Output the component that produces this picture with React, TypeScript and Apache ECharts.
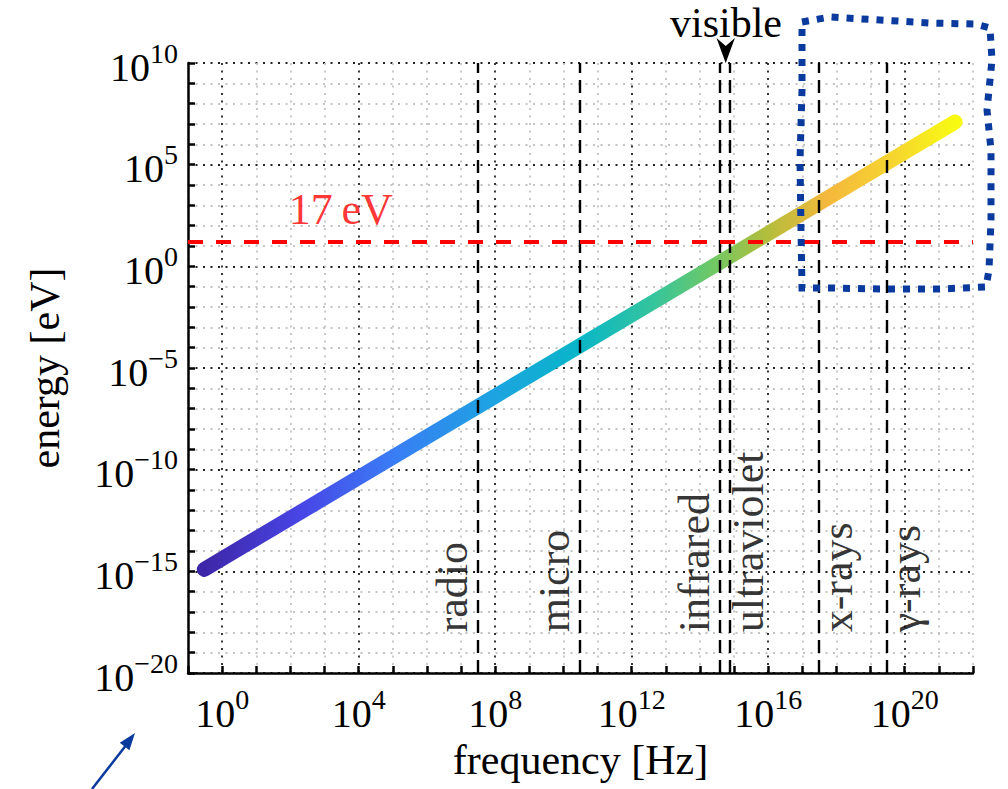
import React, { useEffect, useRef } from 'react';
import * as echarts from 'echarts';

// ---- data ----
const frequencyHz = [0.3, 1e4, 1e8, 1e12, 1e16, 3e21];
const energyEV = [1.25e-15, 4.1e-11, 4.1e-7, 4.1e-3, 41, 1.25e7];
const bandEdgesHz = [3e7, 3e10, 3.85e14, 7.5e14, 3e17, 3e19];
const bandNames = ['radio', 'micro', 'infrared', 'ultraviolet', 'x-rays', 'γ-rays'];
const bandLabelSide = ['left', 'left', 'left', 'right', 'right', 'right'];
const bandLabelEnergyEV = 1e-18;
const thresholdEV = 17;
const thresholdLabel = '17\u2009eV';
const thresholdLabelAt = [3e3, 6.6e2]; // [Hz, eV]
const xExpRange = [-1, 22];
const yExpRange = [-20, 10];
const xLabelEvery = 4;
const yLabelEvery = 5;
const parulaStops: [number, string][] = [
  [0, '#3e26a8'], [0.13, '#4846e6'], [0.25, '#3a7cf5'], [0.38, '#1ea2e2'],
  [0.5, '#08b6c8'], [0.6, '#36c59c'], [0.68, '#72c862'], [0.75, '#b4bd3c'],
  [0.83, '#f4b83c'], [0.92, '#f6d630'], [1, '#f8fa12'],
];

const FONT = "'Liberation Serif', 'DejaVu Serif', serif";
const BLUE = '#0b3a9e';

const expLabel = (every: number) => (v: number) => {
  const n = Math.round(v);
  if (n % every !== 0) return '';
  const e = n < 0 ? '\u2212' + String(-n) : String(n);
  return `{b|10}{s|${e}}`;
};

const richLabels = {
  b: { fontSize: 40, lineHeight: 48, verticalAlign: 'bottom', fontFamily: FONT, color: '#000' },
  s: { fontSize: 28, lineHeight: 30, verticalAlign: 'top', fontFamily: FONT, color: '#000' },
};

export default function App() {
  const ref = useRef<HTMLDivElement>(null);
  useEffect(() => {
    if (!ref.current) return;
    const chart = echarts.init(ref.current, null, { renderer: 'svg' });
    const lg = Math.log10;
    const gradient = new echarts.graphic.LinearGradient(
      0, 0, 1, 0,
      parulaStops.map(([offset, color]) => ({ offset, color }))
    );
    const rectPts = [
      [802, 22], [830, 17], [880, 20], [930, 23], [975, 24], [990, 28], [992, 60],
      [987, 110], [991, 150], [991, 220], [989, 270], [986, 287], [940, 289],
      [880, 289], [830, 288], [802, 288], [801, 230], [800, 160], [802, 90], [802, 22],
    ];
    chart.setOption({
      animation: false,
      backgroundColor: '#fff',
      grid: { left: 188, right: 35, top: 63, bottom: 116, containLabel: false },
      xAxis: {
        type: 'value',
        min: xExpRange[0], max: xExpRange[1], interval: 1,
        name: 'frequency [Hz]', nameLocation: 'middle', nameGap: 66,
        nameTextStyle: { fontFamily: FONT, fontSize: 42, color: '#000' },
        axisLine: { show: true, onZero: false, lineStyle: { color: '#000', width: 2.5 } },
        axisTick: { show: true, inside: true, length: 7, lineStyle: { color: '#000', width: 2.5 } },
        axisLabel: { formatter: expLabel(xLabelEvery), margin: 12, rich: richLabels },
        splitLine: { show: true, lineStyle: { color: ['#c4c4c4', '#222', '#c4c4c4', '#c4c4c4'], width: 1.8, type: [2, 5.5] } },
      },
      yAxis: {
        type: 'value',
        min: yExpRange[0], max: yExpRange[1], interval: 1,
        name: 'energy [eV]', nameLocation: 'middle', nameGap: 122, nameRotate: 90,
        nameTextStyle: { fontFamily: FONT, fontSize: 42, color: '#000' },
        axisLine: { show: true, onZero: false, lineStyle: { color: '#000', width: 2.5 } },
        axisTick: { show: true, inside: true, length: 7, lineStyle: { color: '#000', width: 2.5 } },
        axisLabel: { formatter: expLabel(yLabelEvery), margin: 10, rich: richLabels },
        splitLine: { show: true, lineStyle: { color: ['#222', '#c4c4c4', '#c4c4c4', '#c4c4c4', '#c4c4c4'], width: 1.8, type: [2, 5.5] } },
      },
      series: [
        {
          type: 'line',
          z: 2,
          silent: true,
          symbol: 'none',
          data: frequencyHz.map((f, i) => [lg(f), lg(energyEV[i])]),
          lineStyle: { width: 15, cap: 'round', join: 'round', color: gradient },
        },
        {
          type: 'line',
          z: 6,
          silent: true,
          symbol: 'none',
          data: [],
          markLine: {
            silent: true,
            symbol: ['none', 'none'],
            label: { show: false },
            z: 6,
            data: [
              ...bandEdgesHz.map((f) => ({
                xAxis: lg(f),
                lineStyle: { color: '#000', width: 2.4, type: [13, 7] },
              })),
              { yAxis: lg(thresholdEV), lineStyle: { color: '#ff0000', width: 4, type: [15, 13] } },
            ],
          },
        },
        {
          type: 'scatter',
          z: 7,
          silent: true,
          symbolSize: 1,
          itemStyle: { color: 'transparent' },
          data: bandEdgesHz.map((f, i) => ({
            value: [lg(f), lg(bandLabelEnergyEV)],
            label: {
              show: true,
              position: 'inside',
              formatter: bandNames[i],
              rotate: 90,
              align: 'left',
              verticalAlign: 'middle',
              offset: [0, bandLabelSide[i] === 'left' ? -25 : 19],
              fontSize: 44,
              fontFamily: FONT,
              color: '#000',
            },
          })),
        },
        {
          type: 'scatter',
          z: 7,
          silent: true,
          symbolSize: 1,
          itemStyle: { color: 'transparent' },
          data: [{
            value: [lg(thresholdLabelAt[0]), lg(thresholdLabelAt[1])],
            label: {
              show: true,
              position: 'inside',
              formatter: thresholdLabel,
              fontSize: 44,
              fontFamily: FONT,
              color: '#ff0000',
            },
          }],
        },
      ],
      graphic: [
        {
          type: 'text', z: 50, x: 726, y: 23,
          style: { text: 'visible', font: `42px ${FONT}`, fill: '#000', textAlign: 'center', textVerticalAlign: 'middle' },
        },
        {
          type: 'polygon', z: 50,
          shape: { points: [[725.7, 63], [716.5, 38], [725.7, 46], [734.9, 38]] },
          style: { fill: '#000' },
        },
        {
          type: 'polyline', z: 60,
          shape: { points: rectPts },
          style: { stroke: BLUE, lineWidth: 7, lineDash: [7, 8], fill: null },
        },
        {
          type: 'line', z: 60,
          shape: { x1: 92, y1: 789, x2: 127, y2: 744 },
          style: { stroke: BLUE, lineWidth: 2.5 },
        },
        {
          type: 'polygon', z: 60,
          shape: { points: [[135, 733], [119.8, 742.8], [129.4, 750.2]] },
          style: { fill: BLUE },
        },
      ],
    });
    return () => chart.dispose();
  }, []);
  return (
    <div
      ref={ref}
      style={{ position: 'fixed', left: 0, top: 0, width: 1008, height: 789, background: '#fff' }}
    />
  );
}
